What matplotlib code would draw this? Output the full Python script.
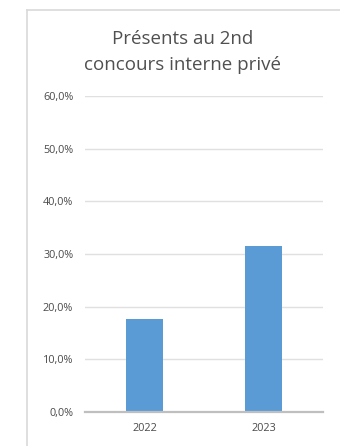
import matplotlib
matplotlib.use("Agg")
import matplotlib.pyplot as plt
from matplotlib.lines import Line2D
from matplotlib.ticker import FuncFormatter

categories = ["2022", "2023"]
values = [17.6, 31.5]
title = "Présents au 2nd\nconcours interne privé"
y_ticks = [0, 10, 20, 30, 40, 50, 60]

W, H = 340, 446
fig = plt.figure(figsize=(W / 100, H / 100), dpi=100)
fig.patch.set_facecolor("white")

# chart frame (top and left edges)
fig.add_artist(Line2D([27 / W, 1], [1 - 10 / H, 1 - 10 / H], color="#d9d9d9", lw=1.2))
fig.add_artist(Line2D([27 / W, 27 / W], [0, 1 - 10 / H], color="#d9d9d9", lw=1.2))

ax = fig.add_axes([85 / W, 1 - 411.7 / H, (323.3 - 85) / W, (411.7 - 96.1) / H])
x = range(len(categories))
ax.bar(x, values, width=0.31, color="#5b9bd5", zorder=3)
ax.set_xlim(-0.5, len(categories) - 0.5)
ax.set_ylim(0, 60)
ax.set_yticks(y_ticks)
ax.yaxis.set_major_formatter(FuncFormatter(lambda v, p: f"{v:.1f}".replace(".", ",") + "%"))
ax.set_xticks(list(x))
ax.set_xticklabels(categories)

for s in ["top", "right", "left"]:
    ax.spines[s].set_visible(False)
ax.spines["bottom"].set_color("#bfbfbf")
ax.spines["bottom"].set_linewidth(1.6)
ax.spines["bottom"].set_zorder(4)
ax.grid(axis="y", color="#e0e0e0", lw=1.0, zorder=0)
ax.tick_params(axis="both", length=0, labelsize=7.8, colors="#4a4a4a")
ax.tick_params(axis="y", pad=8.5)
ax.tick_params(axis="x", pad=8)
for lbl in ax.get_xticklabels() + ax.get_yticklabels():
    lbl.set_fontfamily("Open Sans")

fig.text(183 / W, 1 - 52 / H, title, ha="center", va="center", fontsize=13.5,
         color="#505050", family="Open Sans", linespacing=1.6)

fig.savefig("out.png", dpi=100)
